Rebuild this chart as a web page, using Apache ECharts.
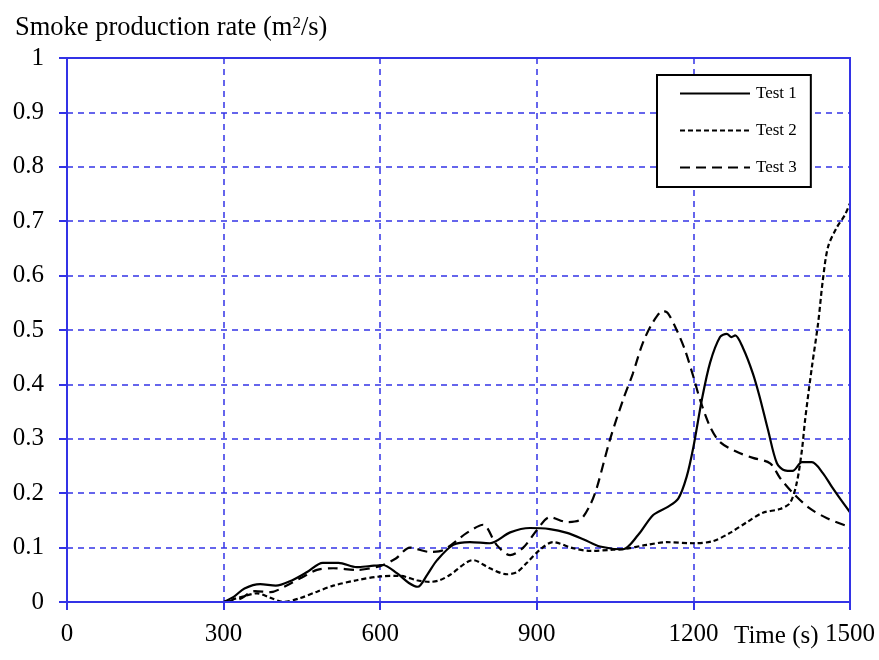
<!DOCTYPE html>
<html>
<head>
<meta charset="utf-8">
<script src="https://cdn.jsdelivr.net/npm/echarts@6/dist/echarts.min.js"></script>
<style>
html,body{margin:0;padding:0;background:#fff;}
#chart{width:879px;height:660px;}
</style>
</head>
<body>
<div id="chart"></div>
<script>
// 烟气生成速率 数据 (time s, rate m2/s)
var test1 = [[300,0],[320,0.01],[340,0.025],[370,0.033],[400,0.03],[427,0.038],[460,0.055],[490,0.072],[520,0.072],
  [555,0.064],[580,0.066],[605,0.068],[632,0.053],[655,0.035],[672,0.028],[690,0.05],[709,0.077],[740,0.105],
  [772,0.11],[810,0.108],[849,0.128],[887,0.136],[925,0.134],[958,0.127],[990,0.115],[1021,0.102],[1065,0.097],
  [1094,0.123],[1123,0.16],[1151,0.175],[1171,0.19],[1187,0.23],[1200,0.285],[1216,0.371],[1232,0.44],
  [1251,0.487],[1264,0.493],[1273,0.487],[1280,0.49],[1295,0.467],[1314,0.42],[1327,0.377],[1343,0.316],
  [1360,0.255],[1375,0.242],[1390,0.241],[1408,0.257],[1427,0.257],[1448,0.237],[1465,0.212],[1481,0.19],[1500,0.165]];
var test2 = [[300,0],[337,0.01],[364,0.016],[389,0.008],[414,0],[446,0.007],[479,0.019],[510,0.03],[555,0.04],
  [600,0.047],[638,0.048],[670,0.04],[695,0.037],[714,0.04],[734,0.05],[778,0.077],[810,0.062],[843,0.051],
  [862,0.055],[881,0.072],[906,0.096],[931,0.11],[969,0.099],[1002,0.094],[1046,0.096],[1065,0.097],[1111,0.105],
  [1149,0.11],[1200,0.108],[1238,0.112],[1270,0.127],[1303,0.147],[1333,0.164],[1366,0.171],[1385,0.182],
  [1398,0.219],[1408,0.28],[1414,0.335],[1427,0.432],[1439,0.513],[1448,0.592],[1458,0.653],[1475,0.689],
  [1490,0.711],[1500,0.733]];
var test3 = [[300,0],[330,0.005],[360,0.02],[390,0.018],[420,0.03],[450,0.045],[479,0.059],[510,0.062],[555,0.059],
  [600,0.066],[630,0.08],[657,0.1],[695,0.092],[720,0.095],[766,0.127],[797,0.142],[823,0.105],[849,0.086],
  [874,0.1],[900,0.132],[925,0.156],[958,0.147],[983,0.151],[1002,0.178],[1015,0.21],[1040,0.298],[1065,0.371],
  [1084,0.42],[1103,0.476],[1123,0.515],[1142,0.535],[1151,0.531],[1168,0.5],[1184,0.463],[1200,0.414],
  [1213,0.371],[1232,0.322],[1251,0.294],[1283,0.276],[1314,0.265],[1347,0.255],[1366,0.228],[1391,0.2],
  [1423,0.172],[1456,0.154],[1490,0.141]];
var seriesNames = ['Test 1', 'Test 2', 'Test 3'];

var blue = '#3333e6';
var font = '"Liberation Serif", "Times New Roman", serif';

var chart = echarts.init(document.getElementById('chart'));
chart.setOption({
    animation: false,
    backgroundColor: '#fff',
    textStyle: { fontFamily: font },
    title: {
        text: 'Smoke production rate (m{sup|2}/s)',
        left: 10, top: 10,
        textStyle: {
            fontFamily: font, fontSize: 26.5, fontWeight: 'normal', color: '#000',
            rich: { sup: { fontFamily: font, fontSize: 17, color: '#000', verticalAlign: 'top', padding: [0, 0, 10, 0] } }
        }
    },
    graphic: [{
        type: 'text', left: 734, top: 624,
        style: { text: 'Time (s)', font: '25px ' + font, fill: '#000' }
    }, {
        type: 'rect', shape: { x: 67, y: 58, width: 783, height: 544 },
        style: { fill: 'none', stroke: blue, lineWidth: 2 }, z: 10
    }],
    legend: {
        orient: 'vertical',
        left: 657, top: 75,
        padding: [10, 14, 11, 22],
        itemWidth: 70, itemHeight: 14, itemGap: 20,
        borderColor: '#000', borderWidth: 2, borderRadius: 0,
        backgroundColor: '#fff',
        itemStyle: { opacity: 0 },
        textStyle: { fontFamily: font, fontSize: 17, color: '#000', padding: [0, 0, 0, 1] },
        data: seriesNames
    },
    grid: { left: 67, right: 29, top: 58, bottom: 58 },
    xAxis: {
        type: 'value', min: 0, max: 1500, interval: 300,
        axisLine: { lineStyle: { color: blue, width: 2 } },
        axisTick: { show: true, length: 8, lineStyle: { color: blue, width: 2 } },
        axisLabel: { color: '#000', fontSize: 25, fontFamily: font, margin: 20, formatter: function (v) { return String(v); } },
        splitLine: { show: true, lineStyle: { color: blue, type: [6, 5], width: 1.5 } }
    },
    yAxis: {
        type: 'value', min: 0, max: 1, interval: 0.1,
        axisLine: { show: true, lineStyle: { color: blue, width: 2 } },
        axisTick: { show: true, length: 8, lineStyle: { color: blue, width: 2 } },
        axisLabel: { color: '#000', fontSize: 25, fontFamily: font, margin: 23 },
        splitLine: { show: true, lineStyle: { color: blue, type: [6, 5], width: 1.5 } }
    },
    series: [{
        name: seriesNames[0], type: 'line', data: test1, smooth: 0.3, symbol: 'none',
        lineStyle: { color: '#000', width: 2.2, type: 'solid' }, itemStyle: { color: '#000' }
    }, {
        name: seriesNames[1], type: 'line', data: test2, smooth: 0.3, symbol: 'none',
        lineStyle: { color: '#000', width: 2.2, type: [5, 3] }, itemStyle: { color: '#000' }
    }, {
        name: seriesNames[2], type: 'line', data: test3, smooth: 0.3, symbol: 'none',
        lineStyle: { color: '#000', width: 2.2, type: [10, 6] }, itemStyle: { color: '#000' }
    }]
});
</script>
</body>
</html>
